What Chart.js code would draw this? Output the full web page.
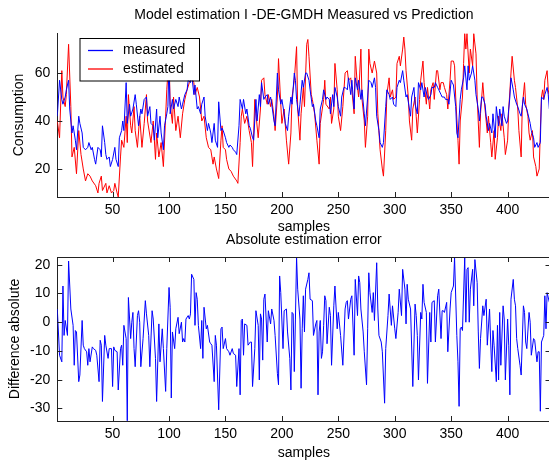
<!DOCTYPE html>
<html>
<head>
<meta charset="utf-8">
<script src="https://cdn.jsdelivr.net/npm/chart.js@4.4.1/dist/chart.umd.min.js"></script>
<style>
html,body{margin:0;padding:0;background:#fff;overflow:hidden;}
#wrap{position:relative;width:549px;height:463px;overflow:hidden;background:#fff;}
#c1{position:absolute;left:0;top:0;}
#c2{position:absolute;left:0;top:230px;}
</style>
</head>
<body>
<div id="wrap">
<canvas id="c1" width="552" height="236"></canvas>
<canvas id="c2" width="552" height="233"></canvas>
</div>
<script>
// ---------- data ----------
const measuredSamples = [
1,3,5,6,8,9,11,12,14,15, 17,18,20,21,23,24,26,28,29,31, 32,34,35,37,39,40,41,43,44,45,
47,48,50,52,53,55,56,58,59,60, 62,63,65,66,68,70,71,73,75,76, 78,80,81,83,84,86,87,89,90,92,
93,95,96,98,99,100,101,103,104,106, 108,109,111,112,114,116,117,119,120,122, 123,125,126,128,129,131,132,134,135,137,
138,140,141,143,144,146,147,148,150,151, 153,154,156,157,159,160,162,163,165,166, 168,169,171,172,174,175,177,178,180,181,
182,184,185,187,188,190,191,193,194,196, 197,199,200,202,203,205,206,208,209,211, 212,213,215,216,218,219,221,222,224,225,
227,228,230,231,233,234,236,237,239,240, 242,243,245,246,247,249,250,252,253,255, 256,258,259,261,262,264,265,267,268,270,
271,273,274,276,277,279,280,282,283,284, 286,287,289,290,292,293,295,296,298,299, 301,302,304,305,307,308,310,311,313,314,
315,317,318,320,321,323,324,326,327,329, 330,332,333,335,336,338,339,341,342,344, 345,347,348,350,351,352,354,355,356,358,
359,361,362,364,365,366,368,369,371,372, 374,375,377,378,380,381,383,384,386,387, 389,390,392,393,395,396,397,399,400,402,
403,405,406,408,409,411,412,414,415,417, 418,420,421,423,424,426,427,429,430,432, 433,435,436,437
];
const measuredValues = [
42,57,49,47,50,53,57,45,35,38, 32,28,42,39,35,29,28,29,31,28, 29,24,22,29,28,25,38,31,26,24,
25,21,24,29,24,21,33,36,40,36, 56,39,47,42,45,51,47,38,45,43, 49,50,42,46,39,38,32,45,33,42,
35,28,38,43,46,65,43,49,45,49, 46,50,45,47,51,53,57,56,60,51, 55,45,46,43,47,50,42,36,39,35,
31,39,32,29,48,36,37,36,33,31, 29,30,29,28,27,26,38,49,45,49, 43,45,38,37,33,32,49,40,51,46,
56,49,50,51,47,50,47,40,38,60, 53,47,49,43,39,36,42,50,47,60, 57,49,42,47,57,54,60,60,57,53,
46,47,40,38,33,45,49,53,49,50, 49,43,51,46,54,50,46,42,50,54, 54,53,58,51,57,45,58,53,57,49,
53,43,38,50,57,56,54,58,54,42, 36,31,29,31,46,53,51,49,50,47, 46,54,57,56,61,57,50,51,45,42,
50,54,47,43,56,53,56,50,54,50, 49,51,54,54,56,54,53,51,50,50, 49,49,47,57,56,55,46,35,33,49,
53,58,63,53,63,57,60,63,57,51, 45,40,50,50,47,42,36,39,35,43, 33,46,38,45,38,46,42,39,40,50,
58,53,50,47,46,43,42,50,47,45, 43,39,36,33,29,31,29,31,50,49, 51,54,51,45
];
const estimatedSamples = [
1,3,5,6,8,9,11,13,14,16, 18,20,22,24,26,28,30,32,35,37, 38,40,41,44,45,47,49,51,52,54,
55,57,58,60,62,63,64,66,67,69, 70,72,74,76,78,80,81,84,86,88, 89,91,93,95,97,98,100,101,103,104,
106,108,110,112,114,116,118,120,122,123, 125,127,129,131,133,135,137,139,140,142, 144,146,147,148,150,151,153,155,157,160,
161,163,164,165,167,169,171,173,174,176, 177,179,181,182,184,185,187,188,190,191, 193,194,196,197,199,200,202,204,206,208,
209,211,213,214,216,217,219,220,222,223, 224,226,227,229,231,233,234,237,238,239, 242,243,244,246,247,249,250,252,254,256,
258,259,261,262,264,265,267,268,270,271, 273,274,276,277,278,280,282,284,285,287, 289,290,292,293,295,296,298,299,301,302,
304,305,307,308,309,310,312,313,315,316, 318,319,320,322,323,325,326,328,329,331, 332,334,335,337,338,340,341,343,344,346,
347,349,350,352,353,354,356,357,358,360, 361,362,363,364,366,367,369,370,372,373, 375,376,378,379,380,382,383,385,386,388,
389,391,392,394,395,397,398,400,401,403, 404,406,407,409,410,412,413,415,416,418, 419,420,422,423,425,426,428,429,430,431,
432,433,435,436,437
];
const estimatedValues = [
40,33,61,50,46,51,72,46,25,29, 18,36,26,20,15,18,17,15,13,10, 14,17,11,14,10,13,10,11,14,10,
8.3,25,32,29,42,31,51,38,35,46, 36,29,42,29,39,51,40,31,40,24, 35,25,31,21,42,53,67,47,39,50,
36,42,33,43,49,53,56,58,56,51, 54,50,40,42,33,29,28,22,25,20, 16,32,38,29,28,24,20,19,17,15,
14,31,42,45,39,42,36,31,21,49, 43,33,45,57,58,51,47,51,46,49, 42,36,50,66,47,39,45,32,22,35,
50,57,71,45,32,43,54,46,72,74, 67,51,49,43,32,22,39,49,57,47, 45,50,39,45,64,53,42,36,46,60,
61,57,58,53,43,67,54,50,70,49, 40,29,42,70,64,60,65,60,43,28, 20,17,36,51,58,50,53,49,50,64,
67,63,70,75,70,61,50,40,32,45, 50,42,35,49,57,65,56,47,54,45, 53,56,49,61,61,53,56,56,54,51,
45,57,65,65,63,50,32,22,40,50, 64,76.4,70,76.4,60,70,63,76.4,68,50, 29,43,56,50,45,35,42,31,25,36,
24,33,42,36,43,33,26,32,45,60, 67,57,54,45,36,25,46,56,47,42, 35,32,36,25,21,17,20,36,50,53,
49,57,61,53,50
];
const errorSamples = [
1,3,5,6,7,8,10,11,13,15, 16,17,18,20,21,23,24,25,27,28, 29,30,32,33,35,36,38,39,40,41,
43,44,46,47,49,50,51,52,54,55, 57,58,59,60,62,63,64,66,67,68, 69,70,72,73,74,75,77,79,80,82,
83,85,86,88,89,91,92,94,95,97, 98,100,101,102,103,105,106,108,109,111, 112,113,114,115,117,118,119,120,122,123,
124,125,126,128,129,130,131,133,134,136, 137,138,140,141,142,144,146,147,148,150, 151,153,154,156,157,159,160,162,163,164,
165,166,167,169,170,172,173,174,176,177, 179,180,181,182,183,184,185,187,188,190, 191,193,194,196,197,198,199,201,202,204,
205,207,208,209,210,211,212,213,214,216, 217,218,219,220,221,223,224,225,227,228, 230,231,232,233,234,235,236,237,238,239,
240,242,243,244,246,247,249,250,252,254, 256,257,258,259,261,262,264,265,267,268, 269,270,272,273,275,276,277,278,280,281,
282,284,285,286,288,289,291,292,294,295, 297,298,300,301,303,304,306,307,309,310, 311,312,314,316,318,319,320,321,323,324,
325,326,328,329,331,332,333,335,336,338, 339,341,342,343,344,346,347,349,350,352, 353,355,356,357,358,359,360,362,363,364,
365,366,367,369,370,371,373,374,375,376, 378,379,381,382,384,385,386,387,388,390, 391,392,393,394,396,397,398,400,401,402,
403,405,406,407,408,409,411,412,414,415, 416,417,419,420,421,423,424,426,427,428, 429,430,432,433,434,435,437
];
const errorValues = [
4.6,-11.5,-13.8,12.6,-4.6,0.6,-4.6,21.3,4.6,-1.1, -15,-2.9,-3.4,-20.7,-18.4,0.6,-8,-9.2,-10.3,-15, -9.2,-13.8,-8.6,-9.2,-9.8,-11.5,-20.7,-6.3,-8,-27.6,
-4.6,-8,-12.6,-9.2,-9.2,-22.4,-8.6,-9.8,-10.3,-23.6, -9.2,-8,-15,-1.1,-5.7,-34.3,8.6,-5.7,0,3.4, -9.2,-15.5,2.3,4,0,-15.5,-5.7,7.5,2.9,-4.6,
-15.5,4,1.1,-12.6,-27.6,-0.6,-13.8,-2.3,-9.2,-24.1, -9.2,12.1,5.2,-26.4,-3.4,-9.2,-2.3,1.7,-4,0, -6.9,-5.7,-6.9,1.1,2.3,1.1,2.9,16.7,14.9,-1.1,
10.3,8,-1.1,-9.2,0.6,-12.6,5.2,-2.3,-1.1,-6.9, -7.5,-8,-20.7,-4.6,-8,-30.5,-2.3,-1.7,-9.2,-5.7, -9.2,-10.3,-11.5,-9.2,-10.9,-11.5,-22.4,-9.2,-25.3,0.6,
1.1,-11.5,-0.6,-1.1,-8,-6.9,-6.9,-22.4,-9.2,4, -1.1,-20.1,2.9,1.1,-13.2,8,9.8,-6.9,4,-0.6, 4.6,0.6,-4.6,-17.8,-21.8,16.1,10.3,-9.2,4,4.6,
-3.4,-12.6,-23.6,3.4,2.9,-17.2,1.1,22.6,11.5,1.1, -23,-2.3,9.2,-3.4,11.5,14.9,17.2,8,7.5,-4.6, -0.6,0.6,-25.3,-3.4,0.6,-12.6,-10.3,-1.1,9.2,7.5,
-7.5,5.2,2.3,-15,5.7,12.6,-2.3,3.4,-4.6,-15, 4.6,6.9,7.5,1.1,8,9.2,-11.5,14.9,2.3,16.1, 13.8,4.6,-3.4,-10.3,-21.8,-2.3,17.2,10.3,3.4,10.3,
0.6,20.7,4.6,-4.6,-6.9,-10.3,-28.2,-9.2,2.3,9.8, -1.1,5.7,-2.3,-5.7,3.4,11.5,2.3,18.4,11.5,-0.6, 13.2,8,4.6,-22.4,6.3,2.3,-4.6,-20.1,3.4,1.1,
13.2,6.9,3.4,-21.3,3.4,-6.9,6.9,7.5,-6.9,9.2, 11.5,-5.7,4,4,3.4,6.9,-10.3,4.6,10.3,12.6, 22.4,-4.6,-13.8,-29.3,-2.3,-1.7,-2.9,22.6,0,18.4,
19,0,11.5,18.4,5.7,21.8,13.8,-3.4,-16.1,-5.7, 5.7,2.3,8,-8,4.6,-6.9,-17.2,-2.9,-8,-20.7, -1.1,-20.1,3.4,-15,5.7,1.1,-20.1,1.1,-8,-25.3,
8,14.9,8,5.7,-5.7,-9.2,-15,-18.4,5.7,3.4, -6.9,-9.2,3.4,0,-11.5,-5.7,-6.3,-13.8,-10.3,-10.3, -31,-6.9,-4.6,9.2,-2.3,10.3,6.9
];
const xTickValues = [50,100,150,200,250,300,350,400];
const topYTickValues = [20,40,60];
const bottomYTickValues = [-30,-20,-10,0,10,20];
const seriesLabels = ['measured','estimated'];

// ---------- drawing ----------
const FONT = "'Liberation Sans', Arial, Helvetica, sans-serif";
const toPoints = (xs, ys) => xs.map((x, i) => ({ x: x, y: ys[i] }));

const inwardTicks = {
  id: 'inwardTicks',
  afterDatasetsDraw(chart, args, o) {
    const { ctx, chartArea: a, scales } = chart;
    const xs = scales.x, ys = scales.y, L = o.length;
    ctx.save();
    ctx.strokeStyle = o.color;
    ctx.lineWidth = 1;
    ctx.beginPath();
    xs.ticks.forEach(t => {
      const p = Math.round(xs.getPixelForValue(t.value)) + 0.5;
      ctx.moveTo(p, a.bottom); ctx.lineTo(p, a.bottom - L);
      if (o.top) { ctx.moveTo(p, a.top); ctx.lineTo(p, a.top + L); }
    });
    ys.ticks.forEach(t => {
      const p = Math.round(ys.getPixelForValue(t.value)) + 0.5;
      ctx.moveTo(a.left, p); ctx.lineTo(a.left + L, p);
      if (o.right) { ctx.moveTo(a.right, p); ctx.lineTo(a.right - L, p); }
    });
    if (o.top) { const yy = Math.round(a.top) + 0.5; ctx.moveTo(a.left, yy); ctx.lineTo(a.right, yy); }
    if (o.right) { const xx = Math.round(a.right) - 0.5; ctx.moveTo(xx, a.top); ctx.lineTo(xx, a.bottom); }
    ctx.stroke();
    ctx.restore();
  }
};

const boxedLegend = {
  id: 'boxedLegend',
  afterDatasetsDraw(chart, args, o) {
    if (!o.show) return;
    const ctx = chart.ctx;
    ctx.save();
    ctx.fillStyle = '#fff';
    ctx.fillRect(o.x, o.y, o.w, o.h);
    ctx.strokeStyle = '#000';
    ctx.lineWidth = 1;
    ctx.strokeRect(o.x + 0.5, o.y + 0.5, o.w, o.h);
    ctx.font = o.font;
    ctx.textBaseline = 'middle';
    chart.data.datasets.forEach((ds, i) => {
      const cy = o.y + o.firstRow + i * o.rowGap;
      ctx.strokeStyle = ds.borderColor;
      ctx.lineWidth = 1.3;
      ctx.beginPath();
      ctx.moveTo(o.x + o.lineStart, cy);
      ctx.lineTo(o.x + o.lineEnd, cy);
      ctx.stroke();
      ctx.fillStyle = '#000';
      ctx.fillText(ds.label, o.x + o.textX, cy);
    });
    ctx.restore();
  }
};

function xScale(height, labelPad, titlePadBottom) {
  return {
    type: 'linear', min: 1, max: 438,
    afterBuildTicks: s => { s.ticks = xTickValues.map(v => ({ value: v })); },
    afterFit: s => { s.height = height; },
    grid: { display: false, drawTicks: false },
    border: { display: true, color: '#222', width: 1 },
    ticks: { color: '#000', font: { family: FONT, size: 14 }, padding: labelPad, maxRotation: 0, autoSkip: false },
    title: { display: true, text: 'samples', color: '#000', font: { family: FONT, size: 14 }, padding: { top: 0, bottom: titlePadBottom } }
  };
}
function yScale(min, max, tickVals, title, titlePad) {
  return {
    type: 'linear', min: min, max: max,
    afterBuildTicks: s => { s.ticks = tickVals.map(v => ({ value: v })); },
    afterFit: s => { s.width = 57.3; },
    grid: { display: false, drawTicks: false },
    border: { display: true, color: '#222', width: 1 },
    ticks: { color: '#000', font: { family: FONT, size: 14 }, padding: 7 },
    title: { display: true, text: title, color: '#000', font: { family: FONT, size: 14 }, padding: { top: titlePad, bottom: 0 } }
  };
}

new Chart(document.getElementById('c1'), {
  type: 'line',
  data: {
    datasets: [
      { label: seriesLabels[0], data: toPoints(measuredSamples, measuredValues), borderColor: '#0000ff', borderWidth: 1, pointRadius: 0, tension: 0, fill: false },
      { label: seriesLabels[1], data: toPoints(estimatedSamples, estimatedValues), borderColor: '#ff0000', borderWidth: 1, pointRadius: 0, tension: 0, fill: false }
    ]
  },
  options: {
    responsive: false, animation: false, events: [],
    layout: { padding: { left: 0, right: 1.5, top: 0, bottom: 0 } },
    plugins: {
      legend: { display: false }, tooltip: { enabled: false },
      title: { display: true, fullSize: false, text: 'Model estimation I -DE-GMDH Measured vs Prediction', color: '#000',
               font: { family: FONT, size: 14, weight: 'normal' }, padding: { top: 6.6, bottom: 9.6 } },
      inwardTicks: { length: 5, color: '#222', top: false, right: false },
      boxedLegend: { show: true, x: 79.5, y: 38, w: 119.5, h: 42.5, firstRow: 12.5, rowGap: 18.5, lineStart: 8.5, lineEnd: 33.5,
                     textX: 43.5, font: "14px 'Liberation Sans', Arial, Helvetica, sans-serif" }
    },
    scales: {
      x: xScale(39, 5, 0.6),
      y: yScale(8.3, 76.7, topYTickValues, 'Consumption', 11)
    }
  },
  plugins: [inwardTicks, boxedLegend]
});

new Chart(document.getElementById('c2'), {
  type: 'line',
  data: {
    datasets: [
      { label: 'error', data: toPoints(errorSamples, errorValues), borderColor: '#0000ff', borderWidth: 1, pointRadius: 0, tension: 0, fill: false }
    ]
  },
  options: {
    responsive: false, animation: false, events: [],
    layout: { padding: { left: 0, right: 1.5, top: 0, bottom: 0 } },
    plugins: {
      legend: { display: false }, tooltip: { enabled: false },
      title: { display: true, fullSize: false, text: 'Absolute estimation error', color: '#000',
               font: { family: FONT, size: 14, weight: 'normal' }, padding: { top: 1.6, bottom: 8.6 } },
      inwardTicks: { length: 5, color: '#222', top: true, right: true },
      boxedLegend: { show: false }
    },
    scales: {
      x: xScale(42, 5, 1.6),
      y: yScale(-34.4, 22.7, bottomYTickValues, 'Difference absolute', 6.6)
    }
  },
  plugins: [inwardTicks, boxedLegend]
});
</script>
</body>
</html>
